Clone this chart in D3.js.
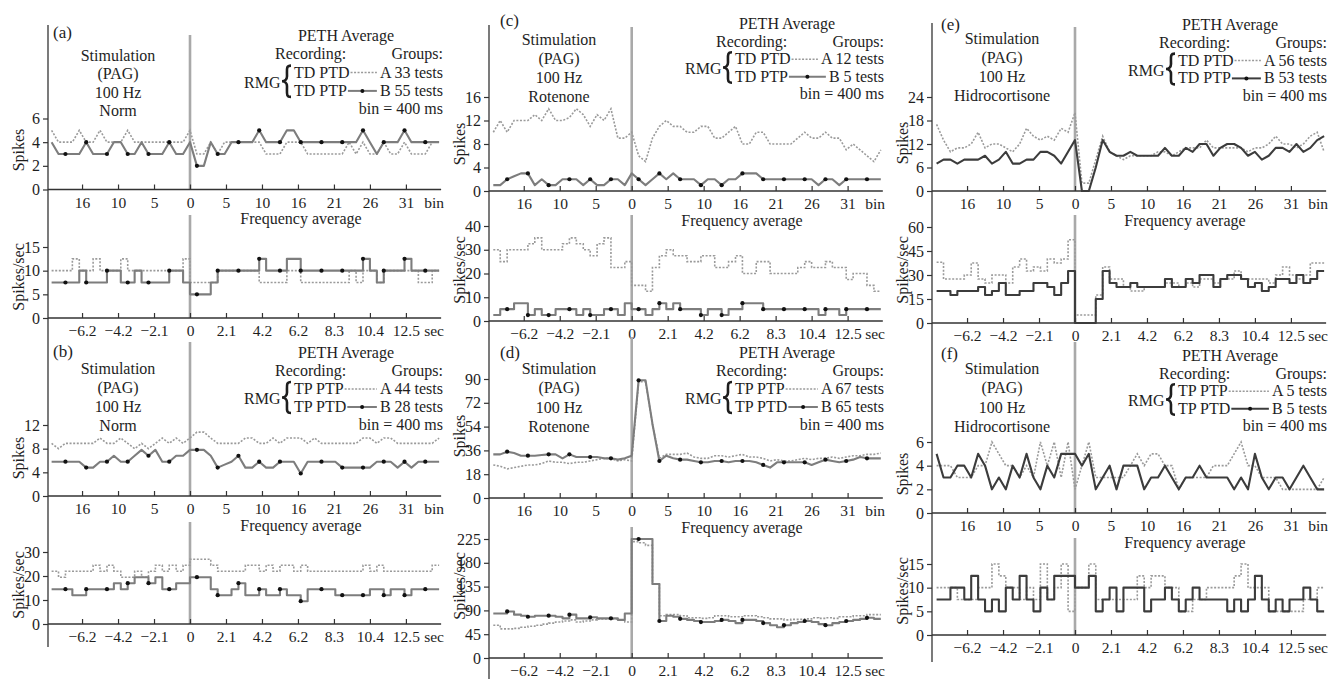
<!DOCTYPE html>
<html>
<head>
<meta charset="utf-8">
<script src="https://cdn.jsdelivr.net/npm/d3@7"></script>
<style>
body{margin:0;background:#fff}
svg{display:block}
text{font-family:"Liberation Serif","Times New Roman",serif;fill:#1e1e1e}
</style>
</head>
<body>
<script>
/* bins: -20 .. 36 (400 ms each), stimulation at 0 */
var bins = d3.range(-20, 37);
var binTicks = [-15.6, -10.4, -5.2, 0, 5.2, 10.4, 15.6, 20.8, 26, 31.2];
var binLabels = ["16", "10", "5", "0", "5", "10", "16", "21", "26", "31"];
var secLabels = ["\u22126.2", "\u22124.2", "\u22122.1", "0", "2.1", "4.2", "6.2", "8.3", "10.4", "12.5"];

/* (a) */
var spikesA_a = [5,4,4,4,5,4,4,5,4,4,4,5,4,4,4,4,4,4,4,4,5, 3,3,4,3,4,4,4,4,4,4,3,3,3,4,4,4,3,3,3,3,3,3,4,3,4,3,3,4,3,3,4,3,3,3,4,4];
var spikesB_a = [4,3,3,3,3,4,3,3,3,4,4,3,3,4,3,3,3,4,3,3,4, 2,2,4,3,3,4,4,4,4,5,4,4,4,5,5,4,4,4,4,4,4,4,4,4,5,4,3,4,4,4,5,4,4,4,4,4];
var freqA_a = [10,10,10,12.5,10,10,12.5,10,10,10,12.5,10,10,10,10,10,10,10,10,12.5, 7.5,7.5,7.5,7.5,10,10,10,10,10,10,7.5,7.5,7.5,7.5,10,10,7.5,7.5,7.5,7.5,7.5,7.5,7.5,10,7.5,10,10,7.5,10,10,10,10,10,7.5,7.5,10];
var freqB_a = [7.5,7.5,7.5,7.5,10,7.5,7.5,7.5,10,10,7.5,7.5,10,7.5,7.5,7.5,7.5,10,10,7.5, 5,5,5,7.5,10,10,10,10,10,10,12.5,10,10,10,12.5,12.5,10,10,10,10,10,10,10,10,10,12.5,10,7.5,10,10,10,12.5,10,10,10,10];

/* (b) */
var spikesA_b = [8.9,8,8.9,8.9,8.9,8.9,8.9,9.8,8.9,8.9,9.8,8.9,8,8.9,8,8.9,9.8,8.9,9.8,8.9,9.8, 10.8,10.8,9.8,8.9,8.9,8.9,8.9,9.8,9.8,8.9,8.9,9.8,8.9,9.8,9.8,9.8,8.9,9.8,8.9,8.9,8.9,8.9,8.9,8.9,9.8,9.8,8.9,9.8,9.8,8.9,8.9,8.9,8.9,8.9,8.9,9.8];
var spikesB_b = [5.8,5.8,5.8,5.8,5.8,4.8,4.8,5.8,5.8,6.8,5.8,5.8,6.8,7.8,6.8,7.8,5.8,5.8,6.8,6.8,7.8, 7.8,7.8,6.8,4.8,5.3,5.8,6.8,4.8,4.8,5.8,4.8,4.8,5.8,5.8,5.8,3.8,5.8,5.8,5.8,5.8,5.8,4.8,4.8,4.8,4.8,4.8,5.8,5.8,5.8,4.8,5.8,4.8,5.8,5.8,5.8,5.8];
var freqA_b = [22,19.5,22,22,22,22,24.5,22,24.5,22,19.5,19.5,22,19.5,22,24.5,22,24.5,22,24.5, 27,27,27,24.5,22,22,22,22,24.5,24.5,22,24.5,22,24.5,24.5,22,24.5,22,22,22,22,22,22,22,22,24.5,22,24.5,22,22,22,22,22,22,22,24.5];
var freqB_b = [14.5,14.5,14.5,12,12,14.5,14.5,14.5,14.5,17,14.5,17,19.5,19.5,17,19.5,14.5,14.5,17,17, 19.5,19.5,19.5,14.5,12,12,14.5,17,12,12,14.5,12,12,14.5,12,12,9.5,14.5,14.5,14.5,14.5,12,12,12,12,12,14.5,14.5,12,14.5,14.5,12,14.5,14.5,14.5,14.5];

/* (c) */
var spikesA_c = [10,12,10,12,12,12,13,12,14,12,12,12.5,14,13,11,13,12,14,9,9,10, 6,5,9,11,12,11,11,10,10,11,11,9,9,10,11,8,8,10,10,8,8,8,8,9,10,9,9,10,9,9,7,8,7,6,5,7];
var spikesB_c = [1,1,2,2.5,3,3,1,2,1,1,2,2,2,1,2,1,1,2,2,1,3, 2,1,2,3,2,3,2,2,2,1,2,2,1,2,2,3,3,3,2,2,2,2,2,2,2,2,1,2,2,1,2,2,2,2,2,2];
var freqA_c = [30,25,30,30,30,32.5,35,30,30,30,32.5,35,32.5,30,27.5,32.5,35,22.5,22.5,25, 15,15,12.5,22.5,27.5,30,27.5,27.5,25,25,27.5,27.5,22.5,22.5,25,27.5,20,20,25,25,20,20,20,20,22.5,25,22.5,22.5,25,22.5,22.5,17.5,20,20,15,12.5];
var freqB_c = [2.5,5,5,7.5,7.5,2.5,5,2.5,2.5,5,5,5,2.5,5,2.5,2.5,5,5,2.5,7.5, 5,5,2.5,5,7.5,5,7.5,5,5,5,2.5,5,5,2.5,5,5,7.5,7.5,7.5,5,5,5,5,5,5,5,5,2.5,5,5,2.5,5,5,5,5,5];

/* (d) */
var spikesA_d = [25,24,22,23,24,25,25,26,28,27,27,26,27,27,28,29,30,30,28,29,28, 88,88,56,30,33,33,33,34,31,30,30,32,32,31,32,33,31,31,30,28,29,28,28,29,30,29,30,30,31,30,31,32,32,33,33,34];
var spikesB_d = [33,33,35,34,32,32,32,32.5,33,33,30,33,31,31,31,31,30,30,29,30,32, 89,89,56,28,32,30,29,29,28,27,27,28,28,27,28,28,28,27,25,23,27,27,27,27,27,25,27,29,28,27,28,29,31,30,30,30];
var freqA_d = [62,55,55,56,58,60,62,64,66,68,70,72,68,70,72,74,74,74,72,68, 220,218,213,140,80,82,82,80,76,76,75,76,80,80,78,78,80,80,78,76,74,74,72,73,73,74,76,75,76,75,78,78,80,80,82,82];
var freqB_d = [84,84,88,82,80,78,80,80,80,78,75,82,75,75,77,75,75,75,72,84, 225,225,225,140,70,80,78,74,72,70,68,68,70,72,70,66,72,72,70,66,62,58,62,66,68,70,68,64,62,66,68,70,72,74,76,74];

/* (e) */
var spikesA_e = [17,13,10,11,11,12,15,11,12,12,11,10,12,16,14,13,14,13,16,15,20, 2,2,8,14,10,9,8,9,9,9,9,10,10,9,10,11,11,11,13,11,11,11,11,11,10,11,11,12,14,12,12,11,12,14,15,10];
var spikesB_e = [7,8,8,7,8,8,8,9,7,8,10,7,7,8,8,10,10,9,7,10,13, 0,0,6,13,10,9,9,10,9,9,9,9,11,9,9,11,10,12,12,9,11,12,12,11,9,10,8,9,11,11,10,12,10,11,13,14];
var freqA_e = [38,27.5,27.5,27.5,30,37.5,27.5,25,30,30,25,35,40,32.5,35,32.5,40,37.5,40,52, 5,5,5,17.5,35,27.5,27.5,22.5,20,20,22.5,22.5,22.5,25,25,22.5,25,22.5,27.5,27.5,25,27.5,27.5,32.5,27.5,27.5,27.5,27.5,25,30,35,30,27.5,30,37.5,37.5];
var freqB_e = [20,20,17.5,20,20,20,22.5,17.5,20,25,17.5,17.5,20,20,25,25,22.5,17.5,25,32.5, 0,0,0,15,32.5,25,22.5,22.5,25,22.5,22.5,22.5,22.5,27.5,22.5,22.5,27.5,25,30,30,22.5,27.5,30,30,27.5,22.5,25,20,22.5,27.5,27.5,25,30,25,27.5,32.5];

/* (f) */
var spikesA_f = [4,4,4,3,3,3,4,4,6,5,4,4,3,4,3,6,4,6,3,6,2, 4,6,3,3,3,3,3,4,5,4,5,5,4,4,2,3,3,3,3,4,4,4,5,6,4,4,3,3,3,2,2,2,2,2,2,3];
var spikesB_f = [5,3,3,4,4,3,5,4,2,3,2,4,3,5,3,2,4,3,5,5,5, 4,5,2,3,4,2,4,4,4,2,3,3,4,3,2,3,3,4,3,3,3,3,2,3,2,5,3,2,3,3,2,3,4,3,2,2];
var freqA_f = [10,10,10,7.5,7.5,7.5,10,10,15,12.5,10,10,7.5,10,7.5,15,7.5,10,15,5, 10,10,15,7.5,7.5,7.5,7.5,7.5,7.5,12.5,10,12.5,12.5,10,10,5,5,7.5,7.5,10,10,10,10,12.5,15,10,10,10,5,5,5,5,5,7.5,7.5,10];
var freqB_f = [7.5,7.5,10,10,7.5,12.5,7.5,5,7.5,5,10,7.5,12.5,7.5,5,10,7.5,12.5,12.5,12.5, 10,10,12.5,5,7.5,10,5,10,10,10,5,7.5,7.5,10,7.5,5,7.5,10,7.5,7.5,7.5,7.5,5,7.5,5,7.5,12.5,7.5,5,7.5,5,7.5,7.5,10,7.5,5];

/* page layout */
var W = 1329, H = 679, bw = 6.92;
var cols = [
  {axisX: 48, zeroX: 190, top: 25, bottom: 647, tagDx: 5},
  {axisX: 489, zeroX: 631.7, top: 25, bottom: 679, tagDx: 11},
  {axisX: 932, zeroX: 1075, top: 23, bottom: 662, tagDx: 9}
];

var panels = [
  {tag: "(a)", col: 0, tagY: 38, stimY: 61, ls: 18.4, lgY: 41, lgs: 18.3, drug: "Norm",
   names: ["TD PTD", "TD PTP"], groups: ["A 33 tests", "B 55 tests"], dark: false,
   sp: {y0: 189.5, y1: 118.5, ticks: [0, 2, 4, 6], zTop: 35, lblY: 150},
   fr: {y0: 318, y1: 247, ticks: [0, 5, 10, 15], zTop: 215, lblY: 277},
   A: spikesA_a, B: spikesB_a, fA: freqA_a, fB: freqB_a},
  {tag: "(b)", col: 0, tagY: 357, stimY: 374, ls: 19, lgY: 358, lgs: 18, drug: "Norm",
   names: ["TP PTP", "TP PTD"], groups: ["A 44 tests", "B 28 tests"], dark: false,
   sp: {y0: 496, y1: 425, ticks: [0, 4, 8, 12], zTop: 342, lblY: 458},
   fr: {y0: 624, y1: 552, ticks: [0, 10, 20, 30], zTop: 522, lblY: 585},
   A: spikesA_b, B: spikesB_b, fA: freqA_b, fB: freqB_b},
  {tag: "(c)", col: 1, tagY: 26, stimY: 45, ls: 19, lgY: 29, lgs: 17.6, drug: "Rotenone",
   names: ["TD PTD", "TD PTP"], groups: ["A 12 tests", "B 5 tests"], dark: false,
   sp: {y0: 191, y1: 97, ticks: [0, 4, 8, 12, 16], zTop: 27, lblY: 144},
   fr: {y0: 321, y1: 226, ticks: [0, 10, 20, 30, 40], zTop: 215, lblY: 270},
   A: spikesA_c, B: spikesB_c, fA: freqA_c, fB: freqB_c},
  {tag: "(d)", col: 1, tagY: 358, stimY: 374, ls: 19.3, lgY: 358, lgs: 18, drug: "Rotenone",
   names: ["TP PTP", "TP PTD"], groups: ["A 67 tests", "B 65 tests"], dark: false,
   sp: {y0: 498, y1: 379, ticks: [0, 18, 36, 54, 72, 90], zTop: 337, lblY: 436},
   fr: {y0: 658, y1: 539, ticks: [0, 45, 90, 135, 180, 225], zTop: 527, lblY: 586},
   A: spikesA_d, B: spikesB_d, fA: freqA_d, fB: freqB_d},
  {tag: "(e)", col: 2, tagY: 30, stimY: 44, ls: 19, lgY: 30, lgs: 17.8, drug: "Hidrocortisone",
   names: ["TD PTD", "TD PTP"], groups: ["A 56 tests", "B 53 tests"], dark: true,
   sp: {y0: 191, y1: 97, ticks: [0, 6, 12, 18, 24], zTop: 27, lblY: 143},
   fr: {y0: 323, y1: 227, ticks: [0, 15, 30, 45, 60], zTop: 215, lblY: 270},
   A: spikesA_e, B: spikesB_e, fA: freqA_e, fB: freqB_e},
  {tag: "(f)", col: 2, tagY: 359, stimY: 374, ls: 19.3, lgY: 361, lgs: 17.6, drug: "Hidrocortisone",
   names: ["TP PTP", "TP PTD"], groups: ["A 5 tests", "B 5 tests"], dark: true,
   sp: {y0: 513, y1: 442, ticks: [0, 2, 4, 6], zTop: 342, lblY: 474},
   fr: {y0: 635, y1: 564, ticks: [0, 5, 10, 15], zTop: 538, lblY: 591},
   A: spikesA_f, B: spikesB_f, fA: freqA_f, fB: freqB_f}
];

var svg = d3.select("body").append("svg").attr("width", W).attr("height", H);

/* long vertical axis of each column */
cols.forEach(function(c){
  svg.append("line")
    .attr("x1", c.axisX).attr("x2", c.axisX).attr("y1", c.top).attr("y2", c.bottom)
    .attr("stroke", "#333").attr("stroke-width", 1.3);
});

panels.forEach(drawPanel);

function isMark(k){ return k < 0 ? k % 3 === 0 : k % 3 === 1; }

function drawPanel(p){
  var c = cols[p.col], ax = c.axisX, R = ax + 395;
  var x = d3.scaleLinear().domain([-20, 36]).range([c.zeroX - 20 * bw, c.zeroX + 36 * bw]);
  var g = svg.append("g");

  drawPlot(g, p, c, x, p.sp, p.A, p.B, false);
  drawPlot(g, p, c, x, p.fr, p.fA, p.fB, true);

  g.append("text").attr("x", ax + 253).attr("y", p.sp.y0 + 34.5)
    .attr("text-anchor", "middle").attr("font-size", 16).text("Frequency average");

  /* panel tag and stimulation block */
  g.append("text").attr("x", ax + c.tagDx).attr("y", p.tagY).attr("font-size", 17).text(p.tag);
  ["Stimulation", "(PAG)", "100 Hz", p.drug].forEach(function(t, i){
    g.append("text").attr("x", ax + 70).attr("y", p.stimY + i * p.ls)
      .attr("text-anchor", "middle").attr("font-size", 16).text(t);
  });

  /* legend */
  var ly = function(i){ return p.lgY + i * p.lgs; };
  g.append("text").attr("x", ax + 298).attr("y", ly(0)).attr("text-anchor", "middle").attr("font-size", 16).text("PETH Average");
  g.append("text").attr("x", ax + 227).attr("y", ly(1)).attr("font-size", 16).text("Recording:");
  g.append("text").attr("x", R).attr("y", ly(1)).attr("text-anchor", "end").attr("font-size", 16).text("Groups:");
  g.append("text").attr("x", ax + 196).attr("y", (ly(2) + ly(3)) / 2 + 1).attr("font-size", 16).text("RMG");

  var bx = ax + 234, by1 = ly(2) - 12, by2 = ly(3) + 1, bm = (by1 + by2) / 2;
  g.append("path")
    .attr("d", "M" + (bx + 9) + "," + by1 +
      " C" + (bx + 4) + "," + by1 + " " + (bx + 5) + "," + (by1 + 3) + " " + (bx + 5) + "," + (bm - 5) +
      " C" + (bx + 5) + "," + (bm - 2) + " " + (bx + 3) + "," + bm + " " + bx + "," + bm +
      " C" + (bx + 3) + "," + bm + " " + (bx + 5) + "," + (bm + 2) + " " + (bx + 5) + "," + (bm + 5) +
      " C" + (bx + 5) + "," + (by2 - 3) + " " + (bx + 4) + "," + by2 + " " + (bx + 9) + "," + by2)
    .attr("fill", "none").attr("stroke", "#1e1e1e").attr("stroke-width", 2.6);

  [0, 1].forEach(function(i){
    var yy = ly(2 + i);
    var nm = g.append("text").attr("x", ax + 246).attr("y", yy).attr("font-size", 16).text(p.names[i]);
    var gr = g.append("text").attr("x", R).attr("y", yy).attr("text-anchor", "end").attr("font-size", 16).text(p.groups[i]);
    var x1 = ax + 246 + nm.node().getComputedTextLength() + 1;
    var x2 = R - gr.node().getComputedTextLength() - 3;
    var ln = g.append("line").attr("x1", x1).attr("x2", x2).attr("y1", yy - 5).attr("y2", yy - 5);
    if (i === 0) {
      ln.attr("stroke", "#9a9a9a").attr("stroke-width", 1.5).attr("stroke-dasharray", "2,1.5");
    } else {
      ln.attr("stroke", p.dark ? "#3c3c3c" : "#7d7d7d").attr("stroke-width", 2);
      g.append("circle").attr("cx", (x1 + x2) / 2).attr("cy", yy - 5).attr("r", 2).attr("fill", "#111");
    }
  });
  g.append("text").attr("x", R).attr("y", ly(4)).attr("text-anchor", "end").attr("font-size", 16).text("bin = 400 ms");
}

function drawPlot(g, p, c, x, s, dA, dB, isStep){
  var ax = c.axisX;
  var y = d3.scaleLinear().domain([0, d3.max(s.ticks)]).range([s.y0, s.y1]);

  /* stimulation line at zero */
  g.append("line").attr("x1", x(0)).attr("x2", x(0)).attr("y1", s.zTop).attr("y2", s.y0)
    .attr("stroke", "#a9a9a9").attr("stroke-width", 2.6);

  /* x axis */
  g.append("line").attr("x1", ax).attr("x2", x(36) + 2).attr("y1", s.y0).attr("y2", s.y0)
    .attr("stroke", "#333").attr("stroke-width", 1.3);
  var xa = g.append("g").attr("transform", "translate(0," + s.y0 + ")")
    .call(d3.axisBottom(x).tickValues(binTicks)
      .tickFormat(function(d, i){ return (isStep ? secLabels : binLabels)[i]; })
      .tickSizeInner(-5).tickSizeOuter(0).tickPadding(7));
  xa.select(".domain").remove();
  xa.selectAll(".tick line").attr("stroke", "#333").attr("stroke-width", 1.2);
  xa.selectAll(".tick text").attr("font-size", 15.5).attr("font-family", null).attr("fill", "#1e1e1e");
  g.append("text").attr("x", ax + 396).attr("y", s.y0 + 7).attr("dy", "0.71em")
    .attr("text-anchor", "end").attr("font-size", 15.5).text(isStep ? "sec" : "bin");

  /* y axis */
  var ya = g.append("g").attr("transform", "translate(" + ax + ",0)")
    .call(d3.axisLeft(y).tickValues(s.ticks).tickFormat(d3.format("d")).tickSize(5).tickPadding(3));
  ya.select(".domain").remove();
  ya.selectAll(".tick line").attr("stroke", "#333").attr("stroke-width", 1.2);
  ya.selectAll(".tick text").attr("font-size", 16).attr("font-family", null).attr("fill", "#1e1e1e");
  g.append("text").attr("transform", "translate(" + (ax - 30) + "," + s.lblY + ") rotate(-90)")
    .attr("text-anchor", "middle").attr("dy", "0.35em").attr("font-size", 16)
    .text(isStep ? "Spikes/sec" : "Spikes");

  var ptsA, ptsB, line;
  if (isStep) {
    ptsA = bins.slice(0, 56).map(function(k, i){ return [k, dA[i]]; });
    ptsA.push([36, dA[55]]);
    ptsB = bins.slice(0, 56).map(function(k, i){ return [k, dB[i]]; });
    ptsB.push([36, dB[55]]);
    line = d3.line().curve(d3.curveStepAfter);
  } else {
    ptsA = bins.map(function(k, i){ return [k, dA[i]]; });
    ptsB = bins.map(function(k, i){ return [k, dB[i]]; });
    line = d3.line();
  }
  line.x(function(d){ return x(d[0]); }).y(function(d){ return y(d[1]); });

  g.append("path").attr("d", line(ptsA)).attr("fill", "none")
    .attr("stroke", "#9a9a9a").attr("stroke-width", 1.6).attr("stroke-dasharray", "2,1.6");
  g.append("path").attr("d", line(ptsB)).attr("fill", "none")
    .attr("stroke", p.dark ? "#3c3c3c" : "#7d7d7d").attr("stroke-width", 2.1)
    .attr("stroke-linejoin", "round");

  if (!p.dark) {
    var marks = isStep ? ptsB.slice(0, 56) : ptsB;
    g.selectAll(null).data(marks.filter(function(d){ return isMark(d[0]); }))
      .enter().append("circle")
      .attr("cx", function(d){ return x(d[0]); })
      .attr("cy", function(d){ return y(d[1]); })
      .attr("r", 2.1).attr("fill", "#111");
  }
}
</script>
</body>
</html>
